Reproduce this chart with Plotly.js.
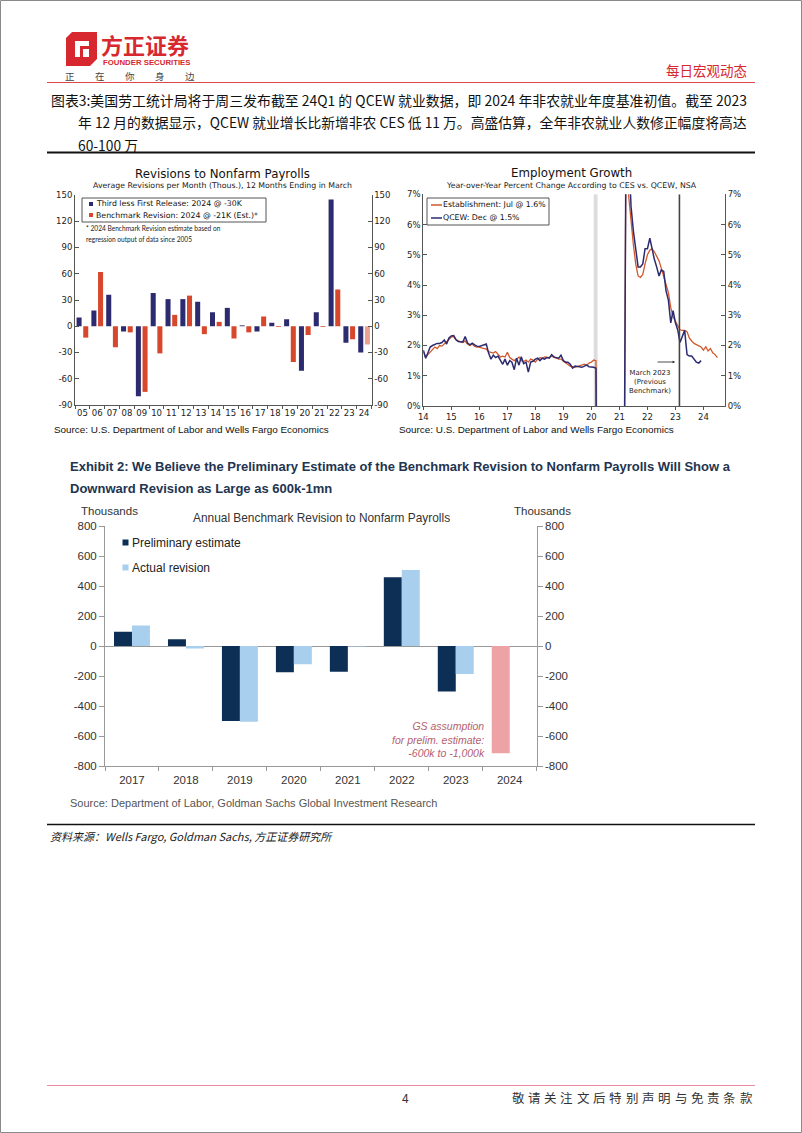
<!DOCTYPE html>
<html>
<head>
<meta charset="utf-8">
<script src="https://cdn.plot.ly/plotly-3.0.1.min.js"></script>
<style>html,body{margin:0;padding:0;background:#fff;}#chart{width:802px;height:1133px;}</style>
</head>
<body>
<div id="chart"></div>
<script>
// ---------------- DATA ----------------
// Chart 1: Revisions to Nonfarm Payrolls (Wells Fargo)
const wfYears = ['05','06','07','08','09','10','11','12','13','14','15','16','17','18','19','20','21','22','23','24'];
const thirdLessFirst = [10,18,36,-6,-80,38,31,31,28,16,21,1,-6,4,8,-51,16,145,-19,-30];
const benchmarkRevision = [-13,62,-24,-7,-75,-31,13,35,-9,5,-14,-7,11,-1,-41,-10,-1,42,-15,-21];
const revTicks = [-90,-60,-30,0,30,60,90,120,150];
const revTickText = ['-90','-60','-30','0','30','60','90','120','150'];

// Chart 2: Employment Growth, YoY % (monthly)
const estabStart = '2014-01';
const establishment = [
  1.80,1.62,1.70,1.78,1.85,1.95,1.90,2.00,1.98,2.05,2.10,2.20,
  2.28,2.30,2.20,2.15,2.12,2.10,2.15,2.05,2.00,2.05,1.97,1.95,
  1.95,1.92,1.90,1.88,1.80,1.78,1.75,1.80,1.72,1.62,1.65,1.62,
  1.78,1.60,1.55,1.50,1.55,1.62,1.50,1.47,1.52,1.45,1.55,1.52,
  1.45,1.55,1.60,1.58,1.62,1.62,1.60,1.65,1.60,1.58,1.55,1.55,
  1.48,1.42,1.38,1.32,1.30,1.28,1.30,1.32,1.35,1.38,1.35,1.42,
  1.45,1.52,1.50,-13.0,-11.5,-8.9,-7.5,-6.7,-6.3,-6.1,-6.0,-6.0,
  -6.0,-5.6,-4.3,10.9,6.95,6.0,5.35,4.7,4.3,4.25,4.35,4.7,
  5.0,5.15,5.2,5.1,4.95,4.8,4.55,4.3,4.05,3.75,3.25,2.95,
  2.8,2.65,2.52,2.5,2.5,2.46,2.25,2.15,2.07,2.03,1.98,1.95,
  1.85,1.96,1.82,1.9,1.76,1.7,1.6
];
const qcewStart = '2014-01';
const qcew = [
  1.85,1.58,1.75,1.95,2.00,2.05,2.07,2.07,2.10,2.18,2.05,2.25,
  2.32,2.33,2.20,2.13,2.12,2.12,2.30,2.08,2.02,2.08,2.02,1.98,
  1.97,2.00,2.03,2.05,1.75,1.55,1.68,1.60,1.65,1.52,1.38,1.55,
  1.35,1.50,1.45,1.20,1.58,1.35,1.63,1.40,1.45,1.12,1.45,1.48,
  1.55,1.58,1.50,1.58,1.55,1.60,1.58,1.70,1.62,1.60,1.58,1.68,
  1.50,1.45,1.45,1.38,1.25,1.32,1.30,1.30,1.28,1.32,1.35,1.30,
  1.30,1.28,1.25,-13.5,-12.0,-9.5,-8.0,-7.0,-6.5,-6.3,-6.2,-6.1,
  -6.3,-6.0,-4.5,11.5,8.5,6.6,5.8,5.15,4.6,4.6,4.7,5.2,
  5.2,5.55,5.2,4.85,4.6,4.3,4.5,4.45,3.8,3.5,2.75,3.15,
  2.75,2.5,2.1,2.3,2.5,1.7,1.65,1.65,1.55,1.45,1.42,1.5
];
const pctTicks = [0,1,2,3,4,5,6,7];
const pctTickText = ['0%','1%','2%','3%','4%','5%','6%','7%'];

// Chart 3: Annual Benchmark Revision (Goldman Sachs), thousands
const gsYears = ['2017','2018','2019','2020','2021','2022','2023','2024'];
const preliminaryEstimate = [95,45,-500,-175,-171,458,-304,-715]; // 2024 = GS assumption
const actualRevision = [136,-16,-505,-121,-4,506,-187,null];
const gsTicks = [-800,-600,-400,-200,0,200,400,600,800];
const gsTickText = ['-800','-600','-400','-200','0','200','400','600','800'];

// ---------------- HELPERS ----------------
const W = 802, H = 1133;
const X = p => p / W;
const Y = p => 1 - p / H;
function monthSeries(start, n) {
  const [y0, m0] = start.split('-').map(Number);
  const out = [];
  for (let i = 0; i < n; i++) {
    const t = (m0 - 1) + i;
    const yy = y0 + Math.floor(t / 12), mm = (t % 12) + 1;
    out.push(yy + '-' + String(mm).padStart(2, '0') + '-01');
  }
  return out;
}

const WF = 'DejaVu Sans, Verdana, sans-serif';
const ARIAL = 'Liberation Sans, Arial, sans-serif';
const NARROW = 'Liberation Sans Narrow, Liberation Sans, Arial, sans-serif';
const CJK = 'Noto Sans CJK SC, sans-serif';

const WF_NAVY = '#2c2b6f', WF_RED = '#d6472b', WF_PINK = '#eca293', WF_ORANGE = '#d2582c';
const GS_NAVY = '#0d2e55', GS_LIGHT = '#a9cfee', GS_PINK = '#eda2a5';
const RED = '#d7282f';

const annotations = [];
function txt(text, x, y, size, opts = {}) {
  annotations.push({
    text: text, xref: 'paper', yref: 'paper', x: X(x), y: Y(y),
    xanchor: opts.xa || 'left', yanchor: 'middle', showarrow: false,
    align: opts.align || (opts.xa === 'right' ? 'right' : (opts.xa === 'center' ? 'center' : 'left')),
    font: { family: opts.family || ARIAL, size: size, color: opts.color || '#222' }
  });
}
const shapes = [];
function hline(x0, x1, y, color, width) {
  shapes.push({ type: 'line', xref: 'paper', yref: 'paper', x0: X(x0), x1: X(x1), y0: Y(y), y1: Y(y), line: { color: color, width: width } });
}
function rect(x0, y0, x1, y1, fill, lineColor, lw) {
  shapes.push({ type: 'rect', xref: 'paper', yref: 'paper', x0: X(x0), x1: X(x1), y0: Y(y0), y1: Y(y1),
    fillcolor: fill || 'rgba(0,0,0,0)', line: { color: lineColor || 'rgba(0,0,0,0)', width: lw || 0 } });
}
function poly(pts, fill) {
  const d = pts.map((p, i) => (i ? 'L' : 'M') + X(p[0]) + ',' + Y(p[1])).join(' ') + ' Z';
  shapes.push({ type: 'path', xref: 'paper', yref: 'paper', path: d, fillcolor: fill, line: { width: 0 } });
}

// ---------------- PAGE FRAME / HEADER ----------------
rect(0.5, 0.5, 801.5, 1132.5, null, '#8a8a8a', 1);
// logo icon
poly([[72,32],[97,32],[97,59],[90,66],[66,66],[66,38]], RED);
poly([[75,41],[89,41],[89,57],[75,57]], '#ffffff');
poly([[80,46],[89,46],[89,57],[80,57]], RED);
poly([[83,49],[89,49],[89,57],[83,57]], '#ffffff');
txt('<b>方正证券</b>', 99, 44, 22, { family: CJK, color: RED });
txt('<b>FOUNDER SECURITIES</b>', 101, 62.5, 7.8, { family: ARIAL, color: RED });
['正','在','你','身','边'].forEach((c, i) => txt(c, 70 + i * 30, 76, 9.5, { family: CJK, color: '#444', xa: 'center' }));
txt('每日宏观动态', 749, 70, 13.5, { family: CJK, color: RED, xa: 'right' });
hline(47, 755, 82.5, '#e0474c', 1);

txt('图表3:美国劳工统计局将于周三发布截至 24Q1 的 QCEW 就业数据，即 2024 年非农就业年度基准初值。截至 2023', 49, 100, 13.9, { family: CJK, color: '#111' });
txt('年 12 月的数据显示，QCEW 就业增长比新增非农 CES 低 11 万。高盛估算，全年非农就业人数修正幅度将高达', 76, 122, 13.8, { family: CJK, color: '#111' });
txt('60-100 万', 76, 145, 13.8, { family: CJK, color: '#111' });
hline(47, 755, 152.5, '#111', 2);

// ---------------- CHART 1 TEXT ----------------
txt('Revisions to Nonfarm Payrolls', 222, 174, 11.8, { family: WF, color: '#111', xa: 'center' });
txt('Average Revisions per Month (Thous.), 12 Months Ending in March', 222, 185.5, 7.8, { family: WF, color: '#222', xa: 'center' });
rect(82, 198, 266, 222, '#ffffff', '#555', 1);
rect(89, 202, 93, 206, WF_NAVY);
rect(89, 213, 93, 217, WF_RED);
txt('Third less First Release: 2024 @ -30K', 94, 204, 7.8, { family: WF, color: '#111' });
txt('Benchmark Revision: 2024 @ -21K (Est.)*', 94, 215.5, 7.8, { family: WF, color: '#111' });
txt('* 2024 Benchmark Revision estimate based on', 84, 228, 6.6, { family: 'Lato, Open Sans, sans-serif', color: '#222' });
txt('regression output of data since 2005', 84, 239, 6.6, { family: 'Lato, Open Sans, sans-serif', color: '#222' });
txt('Source: U.S. Department of Labor and Wells Fargo Economics', 52, 429.5, 9.9, { family: ARIAL, color: '#111' });

// ---------------- CHART 2 TEXT ----------------
txt('Employment Growth', 571, 173, 11.8, { family: WF, color: '#111', xa: 'center' });
txt('Year-over-Year Percent Change According to CES vs. QCEW, NSA', 571, 185.5, 7.8, { family: WF, color: '#222', xa: 'center' });
rect(427, 198, 549, 225, '#ffffff', '#555', 1);
shapes.push({ type: 'line', xref: 'paper', yref: 'paper', x0: X(431), x1: X(442), y0: Y(205), y1: Y(205), line: { color: WF_ORANGE, width: 1.5 } });
shapes.push({ type: 'line', xref: 'paper', yref: 'paper', x0: X(431), x1: X(442), y0: Y(218), y1: Y(218), line: { color: WF_NAVY, width: 1.5 } });
txt('Establishment: Jul @ 1.6%', 441, 205, 7.8, { family: WF, color: '#111' });
txt('QCEW: Dec @ 1.5%', 441, 218, 7.8, { family: WF, color: '#111' });
txt('March 2023<br>(Previous<br>Benchmark)', 673, 382.5, 6.9, { family: WF, color: '#222', xa: 'right', align: 'center' });
annotations.push({ xref: 'paper', yref: 'paper', x: X(675), y: Y(362), ax: -19, ay: 0, text: '', showarrow: true,
  arrowhead: 2, arrowsize: 0.6, arrowwidth: 0.8, arrowcolor: '#222' });
txt('Source: U.S. Department of Labor and Wells Fargo Economics', 397, 429.5, 9.9, { family: ARIAL, color: '#111' });

// shading + vertical line on chart 2 (data coordinates)
shapes.push({ type: 'rect', xref: 'x2', yref: 'y3', x0: '2020-02-01', x1: '2020-03-22', y0: 0, y1: 7,
  fillcolor: '#dcdcdc', line: { width: 0 }, layer: 'below' });
shapes.push({ type: 'line', xref: 'x2', yref: 'y3', x0: '2023-02-22', x1: '2023-02-22', y0: 0, y1: 7,
  line: { color: '#444', width: 1.6 } });

// ---------------- CHART 3 TEXT ----------------
txt('<b>Exhibit 2: We Believe the Preliminary Estimate of the Benchmark Revision to Nonfarm Payrolls Will Show a</b>', 68, 466, 13, { family: NARROW, color: '#22344f' });
txt('<b>Downward Revision as Large as 600k-1mn</b>', 68, 488, 13, { family: NARROW, color: '#22344f' });
txt('Thousands', 109.5, 511, 11.5, { family: ARIAL, color: '#333', xa: 'center' });
txt('Thousands', 542, 511, 11.5, { family: ARIAL, color: '#333', xa: 'center' });
txt('Annual Benchmark Revision to Nonfarm Payrolls', 321, 518, 11.9, { family: ARIAL, color: '#333', xa: 'center' });
rect(122.5, 539.5, 128.5, 545.5, GS_NAVY);
rect(122.5, 564.5, 128.5, 570.5, GS_LIGHT);
txt('Preliminary estimate', 130, 542.5, 12, { family: ARIAL, color: '#222' });
txt('Actual revision', 130, 567.5, 12, { family: ARIAL, color: '#222' });
txt('<i>GS assumption<br>for prelim. estimate:<br>-600k to -1,000k</i>', 487, 739, 10.5, { family: ARIAL, color: '#b5616f', xa: 'right' });
txt('Source: Department of Labor, Goldman Sachs Global Investment Research', 68, 803, 11, { family: NARROW, color: '#555' });

// ---------------- FOOTER ----------------
hline(47, 755, 824.5, '#111', 1.5);
txt('<i>资料来源：Wells Fargo, Goldman Sachs, 方正证券研究所</i>', 48, 836, 11, { family: CJK, color: '#222' });
hline(47, 755, 1085.5, '#e88aa0', 1);
txt('4', 405, 1097, 12, { family: CJK, color: '#333', xa: 'center' });
Array.from('敬请关注文后特别声明与免责条款').forEach((c, i) => txt(c, 518 + i * 16.3, 1097, 12.5, { family: CJK, color: '#333', xa: 'center' }));

// ---------------- TRACES ----------------
const benchColors = benchmarkRevision.map((v, i) => i === benchmarkRevision.length - 1 ? WF_PINK : WF_RED);
const prelimColors = preliminaryEstimate.map((v, i) => i === preliminaryEstimate.length - 1 ? GS_PINK : GS_NAVY);

const traces = [
  { type: 'bar', x: wfYears, y: thirdLessFirst, xaxis: 'x', yaxis: 'y', width: 0.34, offset: -0.395,
    marker: { color: WF_NAVY }, hoverinfo: 'skip' },
  { type: 'bar', x: wfYears, y: benchmarkRevision, xaxis: 'x', yaxis: 'y', width: 0.34, offset: 0.055,
    marker: { color: benchColors }, hoverinfo: 'skip' },
  { type: 'scatter', mode: 'lines', x: monthSeries(estabStart, establishment.length), y: establishment,
    xaxis: 'x2', yaxis: 'y3', line: { color: WF_ORANGE, width: 1.3 }, hoverinfo: 'skip' },
  { type: 'scatter', mode: 'lines', x: monthSeries(qcewStart, qcew.length), y: qcew,
    xaxis: 'x2', yaxis: 'y3', line: { color: WF_NAVY, width: 1.5 }, hoverinfo: 'skip' },
  { type: 'bar', x: gsYears, y: preliminaryEstimate, xaxis: 'x3', yaxis: 'y5', width: 0.333, offset: -0.333,
    marker: { color: prelimColors }, hoverinfo: 'skip' },
  { type: 'bar', x: gsYears, y: actualRevision, xaxis: 'x3', yaxis: 'y5', width: 0.333, offset: 0,
    marker: { color: GS_LIGHT }, hoverinfo: 'skip' },
  // empty traces that only activate the right-hand mirror axes
  { type: 'scatter', mode: 'lines', x: [], y: [], xaxis: 'x', yaxis: 'y2', hoverinfo: 'skip' },
  { type: 'scatter', mode: 'lines', x: [], y: [], xaxis: 'x2', yaxis: 'y4', hoverinfo: 'skip' },
  { type: 'scatter', mode: 'lines', x: [], y: [], xaxis: 'x3', yaxis: 'y6', hoverinfo: 'skip' }
];

const wfTick = { family: WF, size: 8.5, color: '#222' };
const gsTick = { family: ARIAL, size: 11.5, color: '#333' };

const layout = {
  width: W, height: H, margin: { l: 0, r: 0, t: 0, b: 0 },
  paper_bgcolor: '#ffffff', plot_bgcolor: 'rgba(0,0,0,0)', showlegend: false, barmode: 'group',
  // chart 1
  xaxis: { domain: [X(75), X(371.5)], anchor: 'y', type: 'category', range: [-0.5, 19.5], tickangle: 0,
    ticks: 'outside', tickson: 'boundaries', ticklen: 3, tickcolor: '#555', showline: true, linecolor: '#555',
    showgrid: false, zeroline: false, tickfont: wfTick, fixedrange: true },
  yaxis: { domain: [Y(405), Y(195)], anchor: 'x', range: [-90, 150], tickvals: revTicks, ticktext: revTickText,
    ticks: 'inside', ticklen: 4, tickcolor: '#555', showline: true, linecolor: '#555', showgrid: false, zeroline: false,
    tickfont: wfTick, fixedrange: true },
  yaxis2: { overlaying: 'y', side: 'right', anchor: 'x', range: [-90, 150], tickvals: revTicks, ticktext: revTickText,
    ticks: 'inside', ticklen: 4, tickcolor: '#555', showline: true, linecolor: '#555', showgrid: false, zeroline: false,
    tickfont: wfTick, fixedrange: true },
  // chart 2
  xaxis2: { domain: [X(423.3), X(725)], anchor: 'y3', type: 'date', range: ['2014-01-01', '2024-10-08'], tickangle: 0,
    tickformat: '%y', dtick: 'M12', tick0: '2014-01-01', ticks: 'outside', ticklen: 3, tickcolor: '#555',
    showline: true, linecolor: '#555', showgrid: false, zeroline: false, tickfont: wfTick, fixedrange: true },
  yaxis3: { domain: [Y(406), Y(194.3)], anchor: 'x2', range: [0, 7], tickvals: pctTicks, ticktext: pctTickText,
    ticks: 'inside', ticklen: 4, tickcolor: '#555', showline: true, linecolor: '#555', showgrid: false, zeroline: false,
    tickfont: wfTick, fixedrange: true },
  yaxis4: { overlaying: 'y3', side: 'right', anchor: 'x2', range: [0, 7], tickvals: pctTicks, ticktext: pctTickText,
    ticks: 'inside', ticklen: 4, tickcolor: '#555', showline: true, linecolor: '#555', showgrid: false, zeroline: false,
    tickfont: wfTick, fixedrange: true },
  // chart 3
  xaxis3: { domain: [X(105), X(536.7)], anchor: 'y5', type: 'category', range: [-0.5, 7.5], tickangle: 0,
    ticks: 'outside', tickson: 'boundaries', ticklen: 4, tickcolor: '#999', showline: true, linecolor: '#999',
    showgrid: false, zeroline: false, tickfont: gsTick, fixedrange: true, ticklabelstandoff: 3 },
  yaxis5: { domain: [Y(766), Y(526)], anchor: 'x3', range: [-800, 800], tickvals: gsTicks, ticktext: gsTickText,
    ticks: 'outside', ticklen: 5, tickcolor: '#999', showline: true, linecolor: '#999', showgrid: false,
    zeroline: true, zerolinecolor: '#999', zerolinewidth: 1, tickfont: gsTick, fixedrange: true },
  yaxis6: { overlaying: 'y5', side: 'right', anchor: 'x3', range: [-800, 800], tickvals: gsTicks, ticktext: gsTickText,
    ticks: 'outside', ticklen: 5, tickcolor: '#999', showline: true, linecolor: '#999', showgrid: false,
    zeroline: false, tickfont: gsTick, fixedrange: true },
  annotations: annotations,
  shapes: shapes
};

Plotly.newPlot('chart', traces, layout, { displayModeBar: false, staticPlot: true });
</script>
</body>
</html>
